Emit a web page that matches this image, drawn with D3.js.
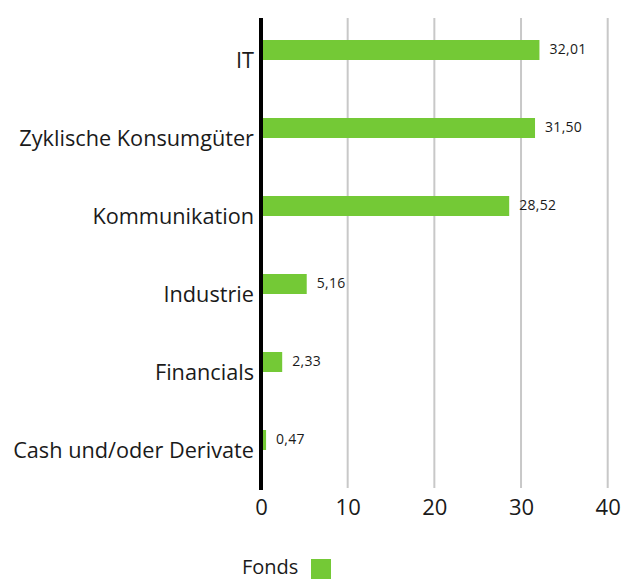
<!DOCTYPE html>
<html>
<head>
<meta charset="utf-8">
<script src="https://cdn.jsdelivr.net/npm/d3@7"></script>
<style>
  body { margin: 0; background: #fff; }
  text { font-family: "Open Sans", sans-serif; fill: #1a1a1a; }
</style>
</head>
<body>
<div id="chart"></div>
<script>
const categories = ["IT", "Zyklische Konsumgüter", "Kommunikation", "Industrie", "Financials", "Cash und/oder Derivate"];
const fondsValues = [32.01, 31.50, 28.52, 5.16, 2.33, 0.47];
const valueLabels = ["32,01", "31,50", "28,52", "5,16", "2,33", "0,47"];
const xTicks = [0, 10, 20, 30, 40];
const seriesName = "Fonds";

const width = 622, height = 579;
const plotTop = 18, plotBottom = 489;
const green = "#74c936";

const svg = d3.select("#chart").append("svg")
  .attr("width", width)
  .attr("height", height);

const x = d3.scaleLinear()
  .domain([0, 40])
  .range([261, 607.7]);

const y = d3.scaleBand()
  .domain(categories)
  .range([plotTop, plotTop + 78 * categories.length]);

// gridlines
svg.append("g")
  .selectAll("line")
  .data(xTicks.filter(t => t > 0))
  .enter()
  .append("line")
  .attr("x1", d => x(d))
  .attr("x2", d => x(d))
  .attr("y1", plotTop)
  .attr("y2", plotBottom - 1)
  .attr("stroke", "#c8c8c8")
  .attr("stroke-width", 2);

// bars
svg.append("g")
  .selectAll("rect")
  .data(fondsValues)
  .enter()
  .append("rect")
  .attr("x", x(0) + 1)
  .attr("y", (d, i) => y(categories[i]) + 22)
  .attr("width", d => x(d) - x(0))
  .attr("height", 20)
  .attr("fill", green);

// value labels
svg.append("g")
  .selectAll("text")
  .data(fondsValues)
  .enter()
  .append("text")
  .attr("x", d => x(d) + 11)
  .attr("y", (d, i) => y(categories[i]) + 31)
  .attr("dy", "0.35em")
  .attr("font-size", 14)
  .attr("letter-spacing", 0.3)
  .text((d, i) => valueLabels[i]);

// category labels
svg.append("g")
  .selectAll("text")
  .data(categories)
  .enter()
  .append("text")
  .attr("x", 254)
  .attr("y", d => y(d) + 42)
  .attr("dy", "0.35em")
  .attr("font-size", 21.7)
  .style("text-anchor", "end")
  .text(d => d);

// axis line
svg.append("line")
  .attr("x1", x(0))
  .attr("x2", x(0))
  .attr("y1", plotTop)
  .attr("y2", plotBottom + 1)
  .attr("stroke", "#000")
  .attr("stroke-width", 4);

// x tick labels
const xAxis = svg.append("g")
  .attr("transform", `translate(0,${plotBottom})`)
  .call(d3.axisBottom(x).tickValues(xTicks).tickSize(0).tickPadding(10).tickFormat(d3.format("d")));
xAxis.select(".domain").remove();
xAxis.selectAll("text")
  .attr("font-size", 22)
  .attr("font-family", "Open Sans, sans-serif")
  .attr("fill", "#1a1a1a");

// legend
svg.append("text")
  .attr("x", 242)
  .attr("y", 574)
  .attr("font-size", 20)
  .text(seriesName);
svg.append("rect")
  .attr("x", 311)
  .attr("y", 559)
  .attr("width", 20)
  .attr("height", 20)
  .attr("fill", green);
</script>
</body>
</html>
